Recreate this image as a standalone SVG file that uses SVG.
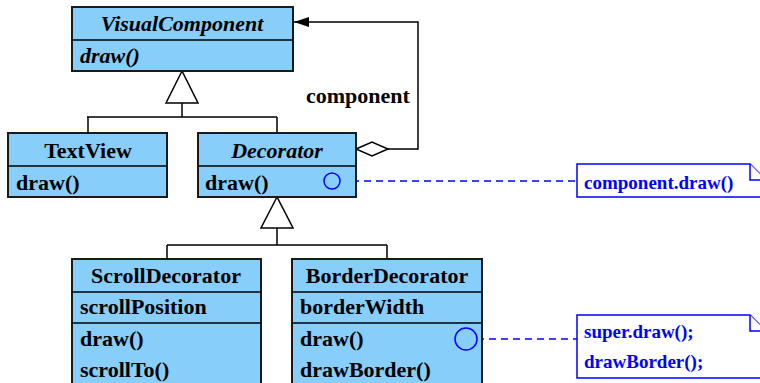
<svg xmlns="http://www.w3.org/2000/svg" width="760" height="383" viewBox="0 0 760 383">
<style>
.box{fill:#87cefa;stroke:#1a1a1a;stroke-width:2}
.ln{fill:none;stroke:#000;stroke-width:1.5}
.t{font-family:"Liberation Serif","Times New Roman",serif;font-weight:bold;font-size:22px;fill:#000}
.i{font-style:italic}
.m{text-anchor:middle}
.note{fill:#fff;stroke:#0000ff;stroke-width:1.5}
.nt{font-family:"Liberation Serif","Times New Roman",serif;font-weight:bold;font-size:19px;fill:#0000ff}
.dash{fill:none;stroke:#0000ff;stroke-width:1.5;stroke-dasharray:7,5}
.circ{fill:none;stroke:#0000ff;stroke-width:1.5}
</style>
<defs>
<marker id="arr" markerWidth="16" markerHeight="12" refX="15" refY="6" orient="auto" markerUnits="userSpaceOnUse">
<path d="M0,1 L15,6 L0,11 z" fill="#000"/>
</marker>
</defs>
<g id="connectors">
<path class="ln" d="M182,103 V117 M87,117 H277 M88,117 V133 M277,117 V133"/>
<path d="M182,71 L166,103 H198 z" fill="#fff" stroke="#000" stroke-width="1.5"/>
<path class="ln" d="M277,228 V245 M167,245 H387 M167,245 V259 M387,245 V259"/>
<path d="M277,197 L261,228 H293 z" fill="#fff" stroke="#000" stroke-width="1.5"/>
<path class="ln" d="M388,149 H418 V22 H294" marker-end="url(#arr)"/>
<path d="M356,149 L372,142 L388,149 L372,156 z" fill="#fff" stroke="#000" stroke-width="1.5"/>
<text class="t" x="306" y="103">component</text>
<path class="dash" d="M340,181 H577"/>
<path class="dash" d="M477,339 H577"/>
</g>
<g id="VisualComponent">
<rect class="box" x="72" y="7" width="221" height="64"/>
<line class="ln" x1="72" y1="40" x2="293" y2="40" stroke-width="2"/>
<text class="t i m" x="182" y="31">VisualComponent</text>
<text class="t i" x="80" y="63">draw()</text>
</g>
<g id="TextView">
<rect class="box" x="8" y="133" width="159" height="64"/>
<line class="ln" x1="8" y1="166" x2="167" y2="166" stroke-width="2"/>
<text class="t m" x="88" y="158">TextView</text>
<text class="t" x="16" y="190">draw()</text>
</g>
<g id="Decorator">
<rect class="box" x="198" y="133" width="158" height="64"/>
<line class="ln" x1="198" y1="166" x2="356" y2="166" stroke-width="2"/>
<text class="t i m" x="277" y="158">Decorator</text>
<text class="t" x="205" y="190">draw()</text>
<circle class="circ" cx="332" cy="181" r="8"/>
</g>
<g id="ScrollDecorator">
<rect class="box" x="72" y="259" width="189" height="140"/>
<line class="ln" x1="72" y1="292" x2="261" y2="292" stroke-width="2"/>
<line class="ln" x1="72" y1="323" x2="261" y2="323" stroke-width="2"/>
<text class="t m" x="166" y="283">ScrollDecorator</text>
<text class="t" x="80" y="314">scrollPosition</text>
<text class="t" x="80" y="346">draw()</text>
<text class="t" x="80" y="377">scrollTo()</text>
</g>
<g id="BorderDecorator">
<rect class="box" x="292" y="259" width="190" height="140"/>
<line class="ln" x1="292" y1="292" x2="482" y2="292" stroke-width="2"/>
<line class="ln" x1="292" y1="323" x2="482" y2="323" stroke-width="2"/>
<text class="t m" x="387" y="283">BorderDecorator</text>
<text class="t" x="300" y="314">borderWidth</text>
<text class="t" x="300" y="346">draw()</text>
<text class="t" x="300" y="377">drawBorder()</text>
<circle class="circ" cx="466" cy="339" r="11"/>
</g>
<g id="note1">
<path class="note" d="M577,164 H750 L766,180 V197 H577 z"/>
<path class="note" d="M750,164 V180 H766" fill="none"/>
<text class="nt" x="584" y="189">component.draw()</text>
</g>
<g id="note2">
<path class="note" d="M577,315 H750 L766,331 V378 H577 z"/>
<path class="note" d="M750,315 V331 H766" fill="none"/>
<text class="nt" x="584" y="338">super.draw();</text>
<text class="nt" x="584" y="368">drawBorder();</text>
</g>
</svg>
